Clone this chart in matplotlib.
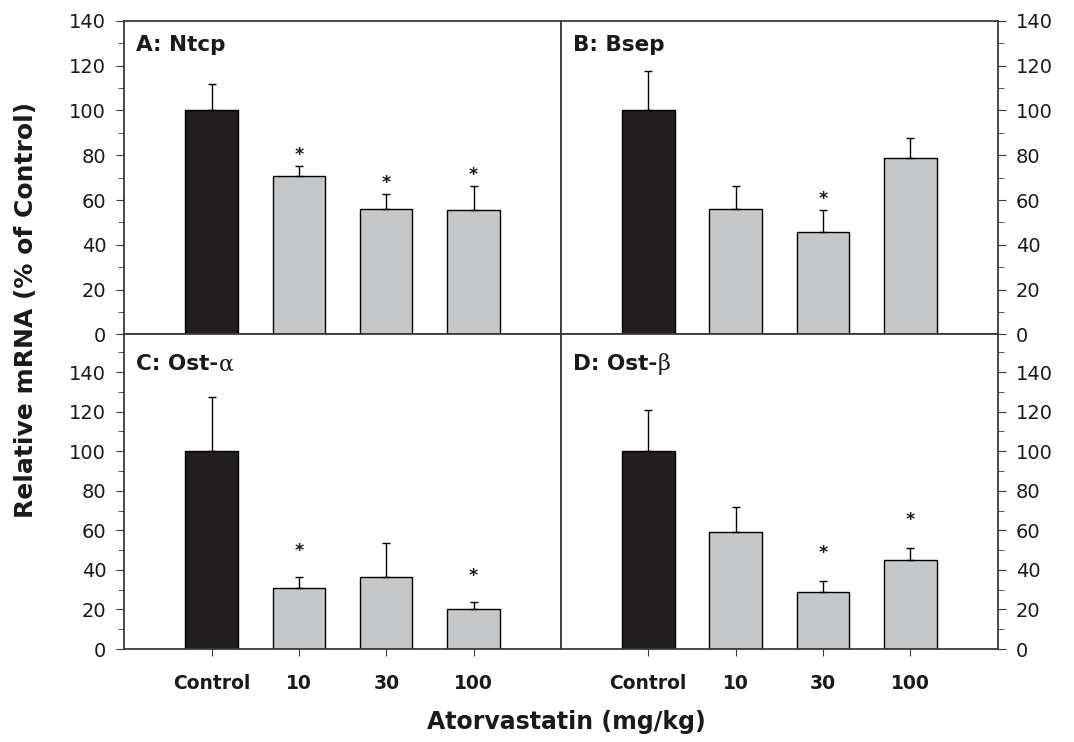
import numpy as np
import matplotlib
matplotlib.use("Agg")
import matplotlib.pyplot as plt
from matplotlib.ticker import MultipleLocator

plt.rcParams["font.family"] = ["DejaVu Sans"]

# Data
groups = ["Control", "10", "30", "100"]
ntcp_mean = [100, 70.8, 56.1, 55.4]
ntcp_err = [11.7, 4.5, 6.5, 10.9]
ntcp_sig = [False, True, True, True]
bsep_mean = [100, 56.2, 45.8, 78.7]
bsep_err = [17.7, 10.1, 9.6, 8.9]
bsep_sig = [False, False, True, False]
osta_mean = [100, 30.7, 36.5, 20.1]
osta_err = [27.5, 5.9, 17.0, 3.6]
osta_sig = [False, True, False, True]
ostb_mean = [100, 59.1, 28.7, 44.9]
ostb_err = [20.9, 12.5, 5.7, 6.4]
ostb_sig = [False, False, True, True]

BLACK = "#231f20"
GRAY = "#c6c7c9"
SPINE = "#3a3a3a"


def draw_panel(ax, mean, err, sig, label, greek, ymax, star_gap, right, bottom):
    x = np.arange(1, len(mean) + 1)
    colors = [BLACK] + [GRAY] * (len(mean) - 1)
    ax.bar(x, mean, width=0.6, color=colors, edgecolor="black", linewidth=1.0, zorder=2)
    ax.errorbar(x, mean, yerr=[np.zeros(len(mean)), err], fmt="none",
                ecolor="black", elinewidth=1.0, capsize=3, capthick=1.0, zorder=3)
    for xi, m, e, s in zip(x, mean, err, sig):
        if s:
            ax.text(xi, m + e + star_gap, "*", ha="center", va="center",
                    fontsize=12.5, fontweight="bold", color="#1a1a1a")

    ax.set_xlim(0, 5)
    ax.set_ylim(0, ymax)
    ax.yaxis.set_minor_locator(MultipleLocator(10))
    ax.set_yticks(np.arange(0, 141, 20))

    for sp in ax.spines.values():
        sp.set_color(SPINE)
        sp.set_linewidth(1.3)

    if right:
        ax.yaxis.tick_right()
    ax.tick_params(axis="y", which="both", direction="out", colors=SPINE,
                   labelcolor="#1a1a1a", labelsize=14, pad=7)
    ax.tick_params(axis="y", which="major", length=6)
    ax.tick_params(axis="y", which="minor", length=4)

    if bottom:
        ax.set_xticks(x)
        ax.set_xticklabels(groups, fontsize=13.5, fontweight="bold")
        ax.tick_params(axis="x", direction="out", length=5, colors=SPINE,
                       labelcolor="#1a1a1a", pad=13)
    else:
        ax.set_xticks([])

    ty = 0.887 if bottom else 0.902
    t = ax.text(0.028, ty, label, transform=ax.transAxes,
                fontsize=15.5, fontweight="bold", ha="left", va="baseline",
                color="#1a1a1a")
    if greek:
        fig.canvas.draw()
        bb = t.get_window_extent()
        x_end = ax.transAxes.inverted().transform((bb.x1, bb.y0))[0]
        ax.text(x_end, ty, greek, transform=ax.transAxes, fontsize=16,
                ha="left", va="baseline", family="DejaVu Serif", color="#1a1a1a")


fig = plt.figure(figsize=(10.74, 7.42), dpi=100)

L, M, R = 0.1157, 0.5223, 0.929
T, MID, B = 0.9721, 0.5492, 0.1253

ax_a = fig.add_axes([L, MID, M - L, T - MID])
ax_b = fig.add_axes([M, MID, R - M, T - MID])
ax_c = fig.add_axes([L, B, M - L, MID - B])
ax_d = fig.add_axes([M, B, R - M, MID - B])

draw_panel(ax_a, ntcp_mean, ntcp_err, ntcp_sig, "A: Ntcp", None, 140, 5, False, False)
draw_panel(ax_b, bsep_mean, bsep_err, bsep_sig, "B: Bsep", None, 140, 5, True, False)
draw_panel(ax_c, osta_mean, osta_err, osta_sig, "C: Ost-", "\u03b1", 159, 13, False, True)
draw_panel(ax_d, ostb_mean, ostb_err, ostb_sig, "D: Ost-", "\u03b2", 159, 14, True, True)

fig.text(0.0242, 0.582, "Relative mRNA (% of Control)", rotation=90, ha="center",
         va="center", fontsize=18, fontweight="bold", color="#1a1a1a")
fig.text(0.527, 0.027, "Atorvastatin (mg/kg)", ha="center", va="center",
         fontsize=17, fontweight="bold", color="#1a1a1a")

fig.savefig("out.png", dpi=100)
